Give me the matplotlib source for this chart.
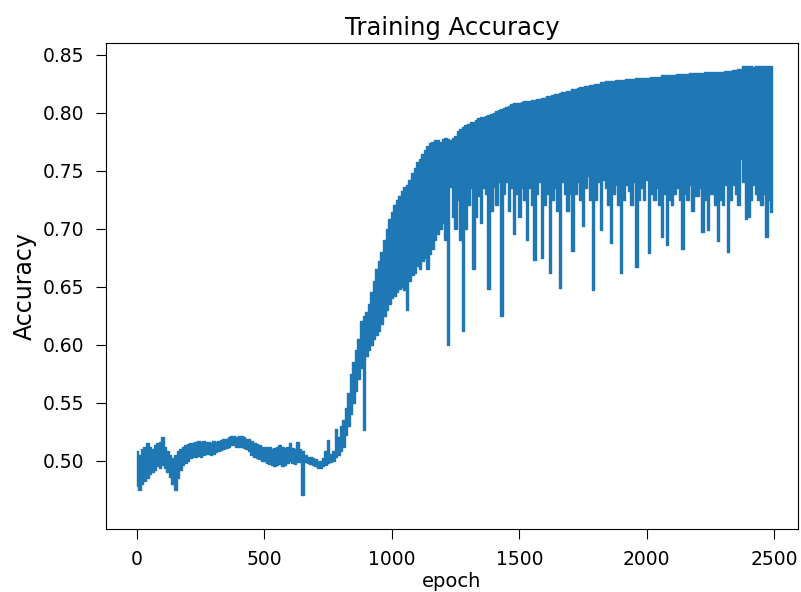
import numpy as np
import matplotlib
matplotlib.use("Agg")
import matplotlib.pyplot as plt

# the curve is too dense to read point by point, so the upper and lower
# edge of the band is read off the reference every 10 epochs
epochs = np.arange(0, 2500, 10)
acc_high = [
    0.508, 0.505, 0.510, 0.512, 0.515, 0.512, 0.510, 0.513, 0.515, 0.516,
    0.520, 0.512, 0.508, 0.505, 0.502, 0.505, 0.508, 0.510, 0.512, 0.513,
    0.514, 0.515, 0.515, 0.516, 0.517, 0.516, 0.517, 0.516, 0.516, 0.515,
    0.517, 0.516, 0.517, 0.518, 0.519, 0.519, 0.520, 0.521, 0.521, 0.520,
    0.521, 0.521, 0.520, 0.519, 0.519, 0.517, 0.515, 0.514, 0.513, 0.512,
    0.512, 0.512, 0.512, 0.510, 0.511, 0.512, 0.513, 0.512, 0.511, 0.512,
    0.515, 0.511, 0.510, 0.516, 0.510, 0.508, 0.505, 0.503, 0.503, 0.502,
    0.501, 0.500, 0.500, 0.502, 0.508, 0.518, 0.506, 0.508, 0.527, 0.520,
    0.530, 0.535, 0.545, 0.558, 0.575, 0.585, 0.595, 0.605, 0.620, 0.625,
    0.628, 0.635, 0.645, 0.655, 0.665, 0.672, 0.680, 0.690, 0.700, 0.708,
    0.714, 0.720, 0.725, 0.728, 0.732, 0.736, 0.738, 0.742, 0.748, 0.752,
    0.757, 0.760, 0.764, 0.768, 0.771, 0.774, 0.775, 0.776, 0.776, 0.775,
    0.777, 0.778, 0.777, 0.776, 0.778, 0.780, 0.784, 0.786, 0.788, 0.789,
    0.790, 0.792, 0.792, 0.794, 0.795, 0.796, 0.796, 0.797, 0.798, 0.799,
    0.800, 0.801, 0.802, 0.803, 0.804, 0.805, 0.806, 0.807, 0.808, 0.808,
    0.808, 0.809, 0.810, 0.810, 0.810, 0.811, 0.811, 0.812, 0.812, 0.813,
    0.813, 0.814, 0.814, 0.815, 0.816, 0.816, 0.817, 0.818, 0.818, 0.819,
    0.819, 0.820, 0.820, 0.821, 0.822, 0.822, 0.823, 0.823, 0.824, 0.824,
    0.825, 0.825, 0.826, 0.826, 0.827, 0.827, 0.827, 0.827, 0.828, 0.828,
    0.828, 0.828, 0.829, 0.829, 0.829, 0.829, 0.830, 0.830, 0.830, 0.830,
    0.830, 0.830, 0.831, 0.831, 0.831, 0.831, 0.832, 0.832, 0.832, 0.832,
    0.832, 0.832, 0.833, 0.833, 0.833, 0.833, 0.833, 0.834, 0.834, 0.834,
    0.834, 0.834, 0.834, 0.835, 0.835, 0.835, 0.835, 0.835, 0.835, 0.835,
    0.835, 0.836, 0.836, 0.836, 0.837, 0.837, 0.838, 0.838, 0.840, 0.840,
    0.840, 0.840, 0.839, 0.840, 0.840, 0.840, 0.840, 0.840, 0.840, 0.840,
]
acc_low = [
    0.478, 0.475, 0.480, 0.482, 0.485, 0.488, 0.490, 0.492, 0.495, 0.494,
    0.496, 0.494, 0.490, 0.486, 0.480, 0.475, 0.485, 0.492, 0.496, 0.498,
    0.500, 0.502, 0.503, 0.503, 0.504, 0.503, 0.505, 0.506, 0.506, 0.505,
    0.506, 0.507, 0.508, 0.509, 0.510, 0.511, 0.512, 0.513, 0.513, 0.512,
    0.512, 0.512, 0.511, 0.510, 0.508, 0.505, 0.503, 0.502, 0.501, 0.500,
    0.500, 0.498, 0.497, 0.496, 0.495, 0.496, 0.497, 0.495, 0.496, 0.498,
    0.500, 0.498, 0.497, 0.499, 0.499, 0.470, 0.499, 0.498, 0.497, 0.496,
    0.495, 0.494, 0.494, 0.495, 0.496, 0.498, 0.499, 0.500, 0.503, 0.505,
    0.508, 0.512, 0.522, 0.530, 0.540, 0.550, 0.560, 0.570, 0.580, 0.526,
    0.590, 0.595, 0.600, 0.605, 0.608, 0.612, 0.618, 0.625, 0.630, 0.635,
    0.640, 0.642, 0.645, 0.648, 0.650, 0.647, 0.630, 0.655, 0.660, 0.662,
    0.668, 0.665, 0.672, 0.675, 0.665, 0.678, 0.682, 0.690, 0.695, 0.700,
    0.705, 0.690, 0.600, 0.736, 0.710, 0.700, 0.725, 0.690, 0.612, 0.700,
    0.720, 0.735, 0.665, 0.710, 0.728, 0.705, 0.735, 0.730, 0.648, 0.715,
    0.736, 0.720, 0.740, 0.625, 0.730, 0.740, 0.715, 0.735, 0.695, 0.730,
    0.710, 0.735, 0.725, 0.690, 0.735, 0.720, 0.673, 0.730, 0.740, 0.675,
    0.720, 0.730, 0.662, 0.725, 0.735, 0.715, 0.649, 0.740, 0.730, 0.715,
    0.730, 0.681, 0.730, 0.740, 0.725, 0.702, 0.735, 0.745, 0.725, 0.647,
    0.725, 0.740, 0.699, 0.742, 0.735, 0.720, 0.688, 0.730, 0.738, 0.720,
    0.662, 0.725, 0.738, 0.732, 0.720, 0.740, 0.667, 0.725, 0.735, 0.725,
    0.742, 0.679, 0.730, 0.725, 0.735, 0.720, 0.693, 0.730, 0.686, 0.725,
    0.720, 0.730, 0.735, 0.725, 0.682, 0.730, 0.725, 0.738, 0.715, 0.728,
    0.728, 0.735, 0.697, 0.725, 0.699, 0.730, 0.730, 0.720, 0.689, 0.725,
    0.720, 0.738, 0.680, 0.725, 0.738, 0.730, 0.720, 0.760, 0.740, 0.708,
    0.710, 0.725, 0.738, 0.730, 0.725, 0.720, 0.730, 0.693, 0.725, 0.714,
]
y_ticks = [0.50, 0.55, 0.60, 0.65, 0.70, 0.75, 0.80, 0.85]
x_ticks = [0, 500, 1000, 1500, 2000, 2500]

fig = plt.figure(figsize=(8.01, 5.92), dpi=100)
ax = fig.add_axes([106 / 801, 63 / 592, 692 / 801, 486 / 592])
ax.fill_between(epochs, acc_low, acc_high, step="mid",
                color="#1f77b4", edgecolor="#1f77b4", linewidth=1.0)

ax.set_xlim(-122, 2594)
ax.set_ylim(0.441, 0.860)
ax.set_xticks(x_ticks)
ax.set_yticks(y_ticks)
ax.set_yticklabels([f"{t:.2f}" for t in y_ticks])
ax.tick_params(labelsize=13.5, length=7)
ax.tick_params(axis="y", pad=9)
ax.tick_params(axis="x", pad=8)

ax.set_title("Training Accuracy", fontsize=17.5, pad=6)
ax.set_xlabel("epoch", fontsize=14, labelpad=2)
ax.set_ylabel("Accuracy", fontsize=17, labelpad=4)

fig.savefig("out.png", dpi=100)
